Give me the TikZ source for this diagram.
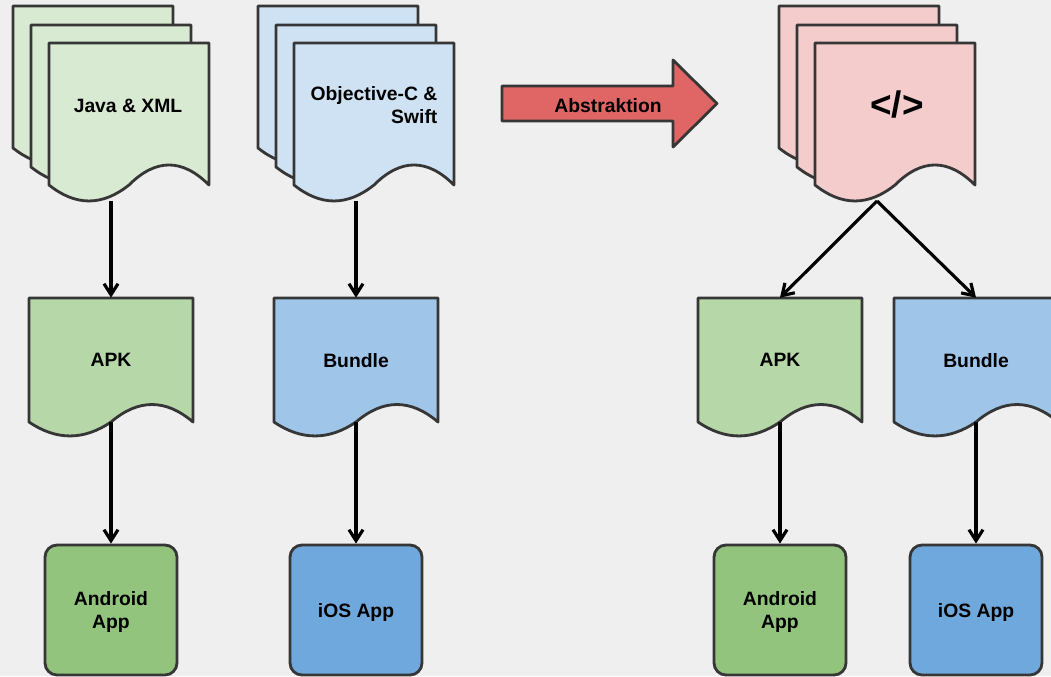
\documentclass[tikz,border=0pt]{standalone}
\usepackage{fontspec}
\setmainfont{Liberation Sans}
\usepackage{tikz}
\usetikzlibrary{arrows.meta}
\definecolor{bggray}{HTML}{EFEFEF}
\definecolor{edgegray}{HTML}{363636}
\definecolor{srcgreen}{HTML}{D9EAD3}
\definecolor{srcblue}{HTML}{CFE2F3}
\definecolor{srcpink}{HTML}{F4CCCC}
\definecolor{pkggreen}{HTML}{B6D7A8}
\definecolor{pkgblue}{HTML}{9FC5E8}
\definecolor{appgreen}{HTML}{93C47D}
\definecolor{appblue}{HTML}{6FA8DC}
\definecolor{abstrred}{HTML}{E06666}
\tikzset{
  shapeline/.style={line width=1.6pt, draw=edgegray, line join=round},
  lbl/.style={font=\fontsize{11}{13}\selectfont\bfseries, inner sep=0pt},
  docbox/.style={lbl, minimum width=3.28cm, minimum height=2.48cm, text depth=-2pt},
  appbox/.style={lbl, shapeline, rounded corners=0.24cm, minimum width=2.64cm, minimum height=2.6cm, align=center, text depth=-2pt},
  flow/.style={line width=1.8pt, -{Straight Barb[length=2.2mm, width=2.8mm, line width=1.8pt]}}
}
% one sheet with a wavy lower edge: x, y (top left), width, side height, fill
\newcommand{\sheet}[5]{%
  \draw[shapeline, fill=#5] ({#1},{#2}) -- ({#1+#3},{#2}) -- ({#1+#3},{#2+#4})
    .. controls ({#1+0.833*#3},{#2+0.812*#4}) and ({#1+0.667*#3},{#2+0.812*#4}) .. ({#1+0.5*#3},{#2+#4})
    .. controls ({#1+0.333*#3},{#2+1.15*#4}) and ({#1+0.167*#3},{#2+1.15*#4}) .. ({#1},{#2+#4}) -- cycle;}
% three stacked sheets
\newcommand{\sheetstack}[3]{%
  \sheet{#1}{#2}{160}{142}{#3}%
  \sheet{#1+18}{#2+19}{160}{142}{#3}%
  \sheet{#1+36}{#2+37}{160}{142}{#3}}

\begin{document}
\begin{tikzpicture}[x=0.02cm, y=-0.02cm]
	%%%%% START %%%%%
	\fill[bggray] (0,0) rectangle (1051,676);
	\useasboundingbox (0,0) rectangle (1051,676);
	\clip (0,0) rectangle (1051,676);

	% native sources
	\sheetstack{13}{6}{srcgreen}
	\node[lbl] (java) at (128,105.5) {Java \& XML};
	\coordinate (java-out) at (111,201);

	\sheetstack{258}{6}{srcblue}
	\node[lbl, align=right] (objc) at (374,105.5) {Objective-C \&\\Swift};
	\coordinate (objc-out) at (356,201);

	% abstraction arrow
	\draw[shapeline, fill=abstrred] (502,86) -- (673,86) -- (673,60) -- (717,103.5) -- (673,147) -- (673,121) -- (502,121) -- cycle;
	\node[lbl] (abstr) at (608,105.5) {Abstraktion};

	% shared source
	\sheetstack{779}{6}{srcpink}
	\node[lbl, font=\fontsize{21}{25}\selectfont\bfseries] (code) at (897,104) {</>};
	\coordinate (code-out) at (877,201);

	% packages
	\sheet{29}{298}{164}{124}{pkggreen}
	\node[docbox] (apkL) at (111,360) {APK};
	\sheet{274}{298}{164}{124}{pkgblue}
	\node[docbox] (bundleL) at (356,360) {Bundle};
	\sheet{698}{298}{164}{124}{pkggreen}
	\node[docbox] (apkR) at (780,360) {APK};
	\sheet{894}{298}{164}{124}{pkgblue}
	\node[docbox] (bundleR) at (976,360) {Bundle};

	% apps
	\node[appbox, fill=appgreen] (andL) at (111,610) {Android\\App};
	\node[appbox, fill=appblue] (iosL) at (356,610) {iOS App};
	\node[appbox, fill=appgreen] (andR) at (780,610) {Android\\App};
	\node[appbox, fill=appblue] (iosR) at (976,610) {iOS App};

	% connectors
	\draw[flow] (java-out) -- (apkL.north);
	\draw[flow] (objc-out) -- (bundleL.north);
	\draw[flow] (apkL.south) -- (andL.north);
	\draw[flow] (bundleL.south) -- (iosL.north);
	\draw[flow] (code-out) -- (apkR.north);
	\draw[flow] (code-out) -- (bundleR.north);
	\draw[flow] (apkR.south) -- (andR.north);
	\draw[flow] (bundleR.south) -- (iosR.north);
	%%%%% END %%%%%
\end{tikzpicture}
\end{document}
